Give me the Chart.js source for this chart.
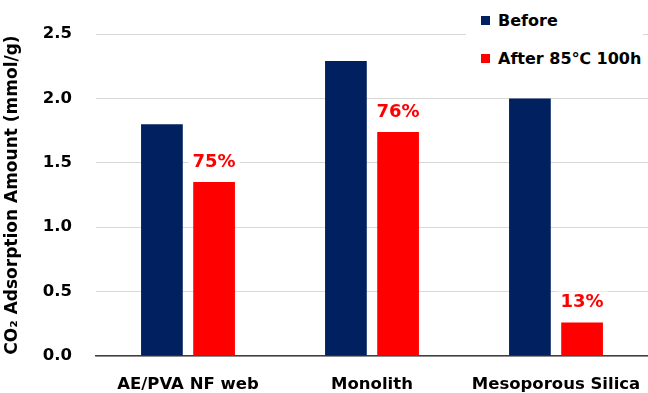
<!DOCTYPE html>
<html>
<head>
<meta charset="utf-8">
<script src="https://cdn.jsdelivr.net/npm/chart.js@4/dist/chart.umd.min.js"></script>
<style>
  html, body { margin: 0; padding: 0; background: #fff; }
  #wrap { position: relative; width: 648px; height: 393px; }
  .legend { position: absolute; left: 466px; top: 0; background: #fff; padding: 2px 2px 2px 15px;
            font-family: "DejaVu Sans", Verdana, sans-serif; font-weight: bold; font-size: 16px; color: #000; }
  .legend div { height: 38px; line-height: 38px; white-space: nowrap; }
  .legend span { display: inline-block; width: 9px; height: 9px; margin-right: 8px; vertical-align: 1px; }
</style>
</head>
<body>
<div id="wrap">
  <canvas id="chart" width="648" height="393"></canvas>
  <div class="legend">
    <div><span style="background:#002060"></span>Before</div>
    <div><span style="background:#ff0000"></span>After 85℃ 100h</div>
  </div>
</div>
<script>
// données
const categories = ['AE/PVA NF web', 'Monolith', 'Mesoporous Silica'];
const beforeValues = [1.80, 2.29, 2.00];
const afterValues = [1.35, 1.74, 0.26];
const retention = ['75%', '76%', '13%'];
const yTicks = [0, 0.5, 1.0, 1.5, 2.0, 2.5];

const FONT = '"DejaVu Sans", Verdana, sans-serif';

// étiquettes de pourcentage au-dessus des barres rouges
const pctLabels = {
    id: 'pctLabels',
    afterDatasetsDraw(chart) {
        const ctx = chart.ctx;
        const meta = chart.getDatasetMeta(1);
        ctx.save();
        ctx.font = 'bold 18px ' + FONT;
        ctx.textAlign = 'center';
        ctx.textBaseline = 'middle';
        meta.data.forEach((bar, i) => {
            const y = bar.y - 20;
            const w = ctx.measureText(retention[i]).width;
            ctx.fillStyle = '#fff';
            ctx.fillRect(bar.x - w / 2 - 4, y - 11, w + 8, 22);
            ctx.fillStyle = '#ff0000';
            ctx.fillText(retention[i], bar.x, y);
        });
        ctx.restore();
    }
};

new Chart(document.getElementById('chart'), {
    type: 'bar',
    data: {
        labels: categories,
        datasets: [
            { label: 'Before', data: beforeValues, backgroundColor: '#002060' },
            { label: 'After 85℃ 100h', data: afterValues, backgroundColor: '#ff0000' }
        ]
    },
    options: {
        responsive: false,
        animation: false,
        devicePixelRatio: 1,
        layout: { padding: { top: 34, right: 0, left: 0, bottom: 0 } },
        datasets: { bar: { categoryPercentage: 0.567, barPercentage: 0.8 } },
        plugins: { legend: { display: false }, tooltip: { enabled: false } },
        scales: {
            x: {
                grid: { display: false, drawTicks: false },
                border: { display: true, color: '#404040', width: 1.5 },
                ticks: { padding: 19, color: '#000', font: { family: FONT, size: 16.5, weight: 'bold' } },
                afterFit(scale) {
                    scale.height = 37;
                    scale.paddingLeft = 0;
                    scale.paddingRight = 0;
                }
            },
            y: {
                min: 0, max: 2.5,
                afterBuildTicks(scale) { scale.ticks = yTicks.map(v => ({ value: v })); },
                grid: { color: '#d9d9d9', drawTicks: false },
                border: { display: false },
                ticks: {
                    padding: 24, color: '#000',
                    font: { family: FONT, size: 16.5, weight: 'bold' },
                    callback: v => v.toFixed(1)
                },
                title: {
                    display: true, text: 'CO₂ Adsorption Amount (mmol/g)', color: '#000',
                    font: { family: FONT, size: 17, weight: 'bold' }, padding: { top: 2, bottom: 0 }
                },
                afterFit(scale) { scale.width = 96; }
            }
        }
    },
    plugins: [pctLabels]
});
</script>
</body>
</html>
